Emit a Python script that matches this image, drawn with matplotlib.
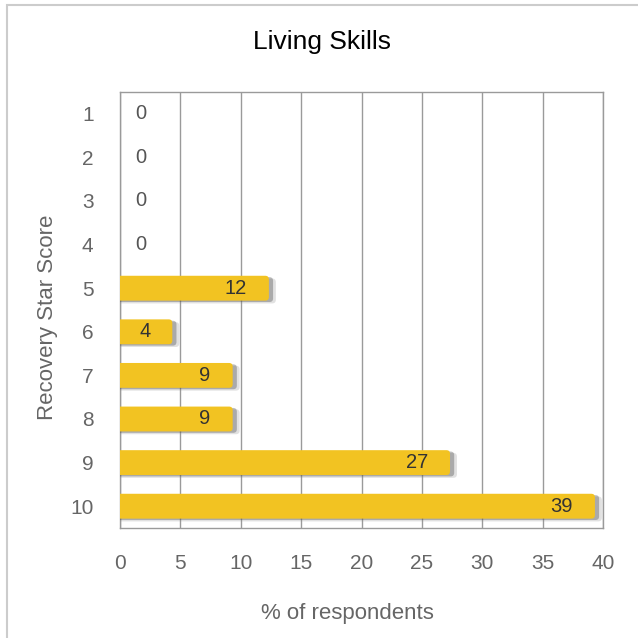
import matplotlib
matplotlib.use("Agg")
import matplotlib.pyplot as plt
import matplotlib.patheffects as pe
from matplotlib.patches import FancyBboxPatch, Rectangle

scores = ["1", "2", "3", "4", "5", "6", "7", "8", "9", "10"]
percent = [0, 0, 0, 0, 12, 4, 9, 9, 27, 39]
x_ticks = [0, 5, 10, 15, 20, 25, 30, 35, 40]

FONT = ["Liberation Sans", "DejaVu Sans"]
BAR_COLOR = "#F2C322"
GRID = "#9a9a9a"
TICK_COLOR = "#666666"

fig = plt.figure(figsize=(6.38, 6.38), dpi=100)
fig.patch.set_facecolor("white")

# light frame around the chart
fig.add_artist(Rectangle((7 / 638, -0.1), 1.2, 1 - 5 / 638 + 0.1, transform=fig.transFigure,
                         fill=False, edgecolor="#cccccc", lw=1.5))

ax = fig.add_axes([120 / 638, 1 - 528 / 638, 483 / 638, 436 / 638])
ax.set_xlim(0, 40)
ax.set_ylim(len(scores) - 0.5, -0.5)

ypos = list(range(len(scores)))
bars = ax.barh(ypos, percent, height=0.57, color="none", edgecolor="none")

# pixel scale to keep rounded corners circular
px_x = 483 / 40
px_y = 436 / len(scores)
cap = 4 / px_x  # rounded end cap extends a few pixels past the value
for rect, val in zip(bars, percent):
    if val <= 0:
        continue
    y0 = rect.get_y()
    h = rect.get_height()
    w = rect.get_width()
    patch = FancyBboxPatch((-1, y0), w + 1 + cap, h,
                           boxstyle="round,pad=0,rounding_size=0.3",
                           mutation_aspect=px_x / px_y,
                           facecolor=BAR_COLOR, edgecolor="none", zorder=3,
                           clip_on=True)
    patch.set_path_effects([pe.SimplePatchShadow(offset=(5, -2), shadow_rgbFace="#888888", alpha=0.25),
                            pe.SimplePatchShadow(offset=(3, -1), shadow_rgbFace="#444444", alpha=0.35),
                            pe.Normal()])
    ax.add_patch(patch)

for i, val in enumerate(percent):
    if val > 0:
        ax.annotate(str(val), (val, i), xytext=(-18, 0), textcoords="offset pixels",
                    ha="right", va="center", fontsize=14.5, color="#333333",
                    family=FONT, zorder=5)
    else:
        ax.annotate(str(val), (0, i), xytext=(15, 0), textcoords="offset pixels",
                    ha="left", va="center", fontsize=14.5, color="#555555",
                    family=FONT, zorder=5)

ax.set_xticks(x_ticks)
ax.set_xticklabels([str(t) for t in x_ticks], family=FONT, fontsize=15, color=TICK_COLOR)
ax.set_yticks(ypos)
ax.set_yticklabels(scores, family=FONT, fontsize=15, color=TICK_COLOR)
ax.tick_params(axis="both", length=0)
ax.tick_params(axis="x", pad=19)
ax.tick_params(axis="y", pad=19)

ax.grid(axis="x", color=GRID, lw=1)
ax.set_axisbelow(True)
for s in ax.spines.values():
    s.set_color(GRID)
    s.set_linewidth(1)

ax.set_xlabel("% of respondents", family=FONT, fontsize=16, color=TICK_COLOR)
ax.xaxis.set_label_coords(0.47, -0.172)
ax.set_ylabel("Recovery Star Score", family=FONT, fontsize=16, color=TICK_COLOR)
ax.yaxis.set_label_coords(-0.128, 0.484)

fig.text(0.5 * (7 / 638) + 0.5, 1 - 42 / 638, "Living Skills", family=FONT, fontsize=19,
         color="black", ha="center", va="center")

fig.savefig("out.png", dpi=100)
